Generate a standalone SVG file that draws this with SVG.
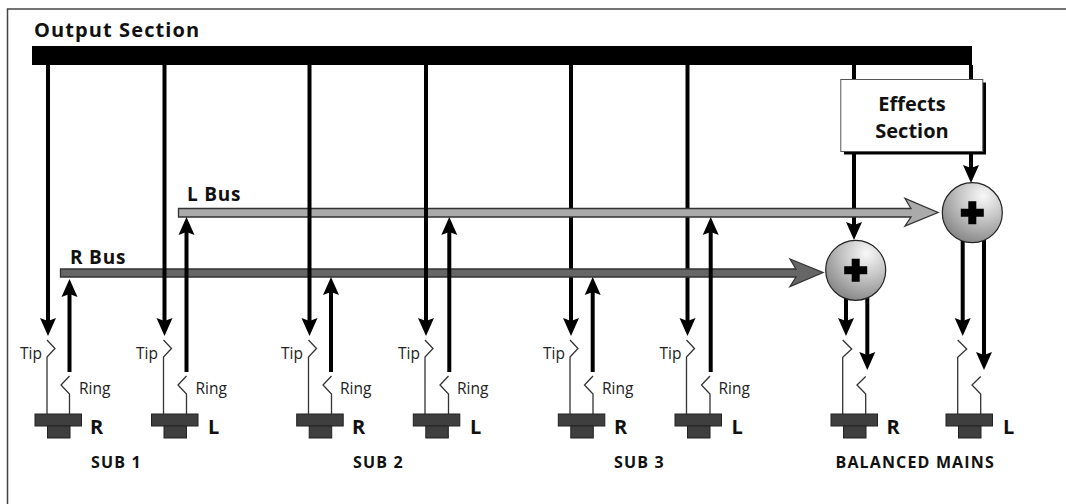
<svg xmlns="http://www.w3.org/2000/svg" width="1066" height="504" viewBox="0 0 1066 504">
<defs>
<marker id="ah" markerUnits="userSpaceOnUse" markerWidth="18" markerHeight="18" refX="8" refY="0" orient="auto" viewBox="0 -9 18 18"><path d="M0 -8L18 0L0 8L3 0Z" fill="#000"/></marker>
<radialGradient id="ball" cx="0.68" cy="0.22" r="0.9"><stop offset="0" stop-color="#f8f8f8"/><stop offset="0.4" stop-color="#cacaca"/><stop offset="1" stop-color="#7c7c7c"/></radialGradient>
<g id="jack"><rect x="0" y="0" width="46.500" height="12" class="j"/><rect x="12.500" y="12" width="22.500" height="12" class="j"/></g>
<path id="plus" d="M-4 -11.500H4V-4H11.500V4H4V11.500H-4V4H-11.500V-4H-4Z" fill="#000"/>
</defs>
<style>
text{font-family:"Open Sans","Noto Sans",sans-serif;fill:#111}
.b{font-weight:700;font-size:20px}
.bus{font-weight:700;font-size:19px;letter-spacing:.8px}
.h{font-weight:700;font-size:16px;letter-spacing:1.150px}
.s{font-size:15.500px;fill:#222}
.w{fill:none;stroke:#000;stroke-width:4}
.a{marker-end:url(#ah)}
.t{fill:none;stroke:#333;stroke-width:1.300}
.j{fill:#3f3f3f;stroke:#222;stroke-width:1}
.ball{fill:url(#ball);stroke:#222;stroke-width:1.200}
</style>
<rect x="0" y="0" width="1066" height="504" fill="#fff"/>
<path id="frame" d="M7.500 504V9H1066" fill="none" stroke="#444" stroke-width="1.500"/>
<text id="title" x="34" y="37" class="b" letter-spacing="1.100">Output Section</text>
<rect id="output-bus" x="32" y="46" width="940" height="19" fill="#000"/>
<g id="under-bus-connectors">
<path class="w a" d="M571 65V326"/><path class="w a" d="M687.500 65V326"/>
<path class="w a" d="M854 150V230"/>
</g>
<g id="l-bus"><text x="187" y="201" class="bus">L Bus</text><path d="M178.500 208.500H911L905 198.500L938 212.500L905 226L911 217H178.500Z" fill="#aaa" stroke="#333" stroke-width="1.300"/></g>
<g id="r-bus"><text x="70" y="264" class="bus">R Bus</text><path d="M60.500 269H796L790 259L823 272.500L790 286.500L796 277H60.500Z" fill="#666" stroke="#333" stroke-width="1.300"/></g>
<g id="connectors">
<path class="w a" d="M48 65V326"/><path class="w a" d="M164.500 65V326"/><path class="w a" d="M309.500 65V326"/><path class="w a" d="M426 65V326"/>
<path class="w a" d="M69.500 372V289"/><path class="w a" d="M186.500 372V227"/><path class="w a" d="M331 372V287"/><path class="w a" d="M449.300 372V227"/><path class="w a" d="M592.700 372V287"/><path class="w a" d="M710.700 372V227"/>
<path class="w" d="M854 65V80M971 65V80"/>
<path class="w a" d="M971 150V173"/>
<path class="w a" d="M846 295V326"/><path class="w a" d="M867.300 296V360"/><path class="w a" d="M962.700 238V326"/><path class="w a" d="M984 238V360"/>
<path class="t" d="M47 340L55 348.500L47 357V414M69.500 376L61 385L69.500 394V414"/>
<path class="t" d="M163.500 340L171.500 348.500L163.500 357V414M186.500 376L178 385L186.500 394V414"/>
<path class="t" d="M308.500 340L316.500 348.500L308.500 357V414M331.500 376L323 385L331.500 394V414"/>
<path class="t" d="M425 340L433 348.500L425 357V414M448.500 376L440 385L448.500 394V414"/>
<path class="t" d="M570 340L578 348.500L570 357V414M593 376L584.500 385L593 394V414"/>
<path class="t" d="M686.500 340L694.500 348.500L686.500 357V414M710 376L701.500 385L710 394V414"/>
<path class="t" d="M842.700 340L851.700 349L842.700 357.300V414M865.700 376.500L857 385L865.700 394V414"/>
<path class="t" d="M957.700 340L966.700 349L957.700 357.300V414M980.700 376.500L972 385L980.700 394V414"/>
</g>
<g id="effects"><rect x="844" y="82.500" width="142" height="72" fill="#000"/><rect x="840.800" y="79.500" width="142" height="72" fill="#fff" stroke="#555" stroke-width="1"/><text x="912" y="111" class="b" text-anchor="middle">Effects</text><text x="912" y="137.500" class="b" text-anchor="middle">Section</text></g>
<g id="mixer-r"><circle cx="855.700" cy="270.300" r="30" class="ball"/><use href="#plus" x="855.700" y="270.300"/></g>
<g id="mixer-l"><circle cx="972.300" cy="212.700" r="30" class="ball"/><use href="#plus" x="972.300" y="212.700"/></g>
<g id="sub1-r"><use href="#jack" x="35" y="414"/><text x="20" y="359" class="s">Tip</text><text x="79" y="394" class="s">Ring</text><text x="90" y="434" class="b">R</text></g>
<g id="sub1-l"><use href="#jack" x="151.500" y="414"/><text x="136" y="359" class="s">Tip</text><text x="195.500" y="394" class="s">Ring</text><text x="208" y="434" class="b">L</text></g>
<g id="sub2-r"><use href="#jack" x="296.700" y="414"/><text x="281" y="359" class="s">Tip</text><text x="340" y="394" class="s">Ring</text><text x="352" y="434" class="b">R</text></g>
<g id="sub2-l"><use href="#jack" x="413.300" y="414"/><text x="398" y="359" class="s">Tip</text><text x="457" y="394" class="s">Ring</text><text x="470" y="434" class="b">L</text></g>
<g id="sub3-r"><use href="#jack" x="558.300" y="414"/><text x="543" y="359" class="s">Tip</text><text x="602" y="394" class="s">Ring</text><text x="614" y="434" class="b">R</text></g>
<g id="sub3-l"><use href="#jack" x="675" y="414"/><text x="659.500" y="359" class="s">Tip</text><text x="718.500" y="394" class="s">Ring</text><text x="731.500" y="434" class="b">L</text></g>
<g id="main-r"><use href="#jack" x="831" y="414"/><text x="886.500" y="434" class="b">R</text></g>
<g id="main-l"><use href="#jack" x="946" y="414"/><text x="1003" y="434" class="b">L</text></g>
<text x="91" y="468" class="h">SUB 1</text>
<text x="353" y="468" class="h">SUB 2</text>
<text x="614" y="468" class="h">SUB 3</text>
<text x="835.500" y="468" class="h">BALANCED MAINS</text>
</svg>
